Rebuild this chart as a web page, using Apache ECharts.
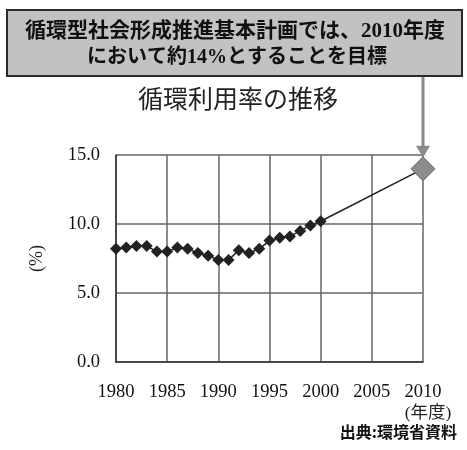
<!DOCTYPE html>
<html>
<head>
<meta charset="utf-8">
<script src="https://cdn.jsdelivr.net/npm/echarts@6/dist/echarts.min.js"></script>
<style>
  html, body { margin: 0; padding: 0; background: #fff; }
  #chart { width: 467px; height: 450px; }
</style>
</head>
<body>
<div id="chart"></div>
<script>
// 循環利用率 (%) 1980-2000 actuals, plus the 2010 target
const years = [1980, 1981, 1982, 1983, 1984, 1985, 1986, 1987, 1988, 1989, 1990,
  1991, 1992, 1993, 1994, 1995, 1996, 1997, 1998, 1999, 2000]
const rates = [8.2, 8.3, 8.4, 8.4, 8.0, 8.0, 8.3, 8.2, 7.9, 7.7, 7.4,
  7.4, 8.1, 7.9, 8.2, 8.8, 9.0, 9.1, 9.5, 9.9, 10.2]
const targetYear = 2010
const targetRate = 14
const yTicks = [0, 5, 10, 15]
const xTicks = [1980, 1985, 1990, 1995, 2000, 2005, 2010]

const serif = '"Liberation Serif", "Noto Sans CJK JP", serif'
const cjk = '"Noto Sans CJK JP", sans-serif'

const data = years.map((y, i) => [y, rates[i]])
data.push({
  value: [targetYear, targetRate],
  symbolSize: 24,
  itemStyle: { color: '#8c8c8c', borderColor: '#6a6a6a', borderWidth: 1 }
})

const chart = echarts.init(document.getElementById('chart'))

chart.setOption({
  animation: false,
  backgroundColor: '#fff',
  grid: { left: 116, right: 44, top: 155, bottom: 88 },
  xAxis: {
    type: 'value',
    min: xTicks[0],
    max: xTicks[xTicks.length - 1],
    interval: 5,
    axisLine: { show: true, lineStyle: { color: '#333', width: 1.5 } },
    axisTick: { show: false },
    axisLabel: {
      margin: 21,
      color: '#111',
      fontSize: 18.5,
      fontFamily: serif,
      formatter: v => String(v)
    },
    splitLine: { show: true, lineStyle: { color: '#666', width: 1.5 } }
  },
  yAxis: {
    type: 'value',
    min: yTicks[0],
    max: yTicks[yTicks.length - 1],
    interval: 5,
    name: '(%)',
    nameLocation: 'middle',
    nameRotate: 90,
    nameGap: 70,
    nameTextStyle: { fontSize: 18, color: '#222', fontFamily: serif },
    axisLine: { show: true, lineStyle: { color: '#333', width: 1.5 } },
    axisTick: { show: false },
    axisLabel: {
      margin: 16,
      color: '#111',
      fontSize: 18.5,
      fontFamily: serif,
      formatter: v => v.toFixed(1)
    },
    splitLine: { show: true, lineStyle: { color: '#666', width: 1.5 } }
  },
  series: [{
    type: 'line',
    data: data,
    symbol: 'diamond',
    symbolSize: 12,
    lineStyle: { color: '#222', width: 1.5 },
    itemStyle: { color: '#222' },
    z: 3
  }]
})

// arrow from the note box down to the 2010 target marker
const p = chart.convertToPixel({ gridIndex: 0 }, [targetYear, targetRate])
const tipY = p[1] - 11

chart.setOption({
  graphic: [
    {
      type: 'rect',
      id: 'noteBox',
      shape: { x: 7, y: 10, width: 455, height: 66 },
      style: { fill: '#c2c2c2', stroke: '#2a2a2a', lineWidth: 2 }
    },
    {
      type: 'text',
      id: 'note1',
      x: 235, y: 32,
      style: {
        text: '循環型社会形成推進基本計画では、2010年度',
        font: 'bold 21px ' + serif,
        fill: '#111',
        align: 'center',
        verticalAlign: 'middle'
      }
    },
    {
      type: 'text',
      id: 'note2',
      x: 237, y: 58,
      style: {
        text: 'において約14%とすることを目標',
        font: 'bold 20px ' + serif,
        fill: '#111',
        align: 'center',
        verticalAlign: 'middle'
      }
    },
    {
      type: 'line',
      id: 'arrowLine',
      shape: { x1: p[0], y1: 77, x2: p[0], y2: tipY - 10 },
      style: { stroke: '#8a8a8a', lineWidth: 3 },
      z: 10
    },
    {
      type: 'polygon',
      id: 'arrowHead',
      shape: { points: [[p[0] - 7, tipY - 12], [p[0] + 7, tipY - 12], [p[0], tipY]] },
      style: { fill: '#8a8a8a' },
      z: 10
    },
    {
      type: 'text',
      id: 'title',
      x: 238, y: 98,
      style: {
        text: '循環利用率の推移',
        font: '25px ' + cjk,
        fill: '#222',
        align: 'center',
        verticalAlign: 'middle'
      }
    },
    {
      type: 'text',
      id: 'unit',
      x: 428, y: 413,
      style: {
        text: '(年度)',
        font: '17.5px ' + serif,
        fill: '#222',
        align: 'center',
        verticalAlign: 'middle'
      }
    },
    {
      type: 'text',
      id: 'source',
      x: 457, y: 432,
      style: {
        text: '出典:環境省資料',
        font: 'bold 16px ' + cjk,
        fill: '#111',
        align: 'right',
        verticalAlign: 'middle'
      }
    }
  ]
})
</script>
</body>
</html>
